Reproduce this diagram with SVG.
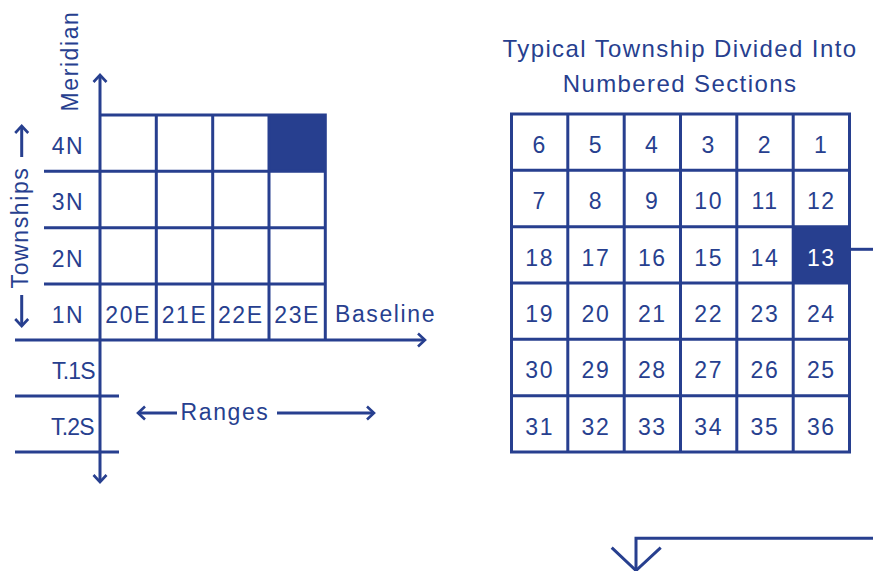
<svg xmlns="http://www.w3.org/2000/svg" width="873" height="571" viewBox="0 0 873 571">
<defs>
<style>
.ln{stroke:#273f8f;stroke-width:3;fill:none}
.fill{fill:#273f8f}
text{font-family:"Liberation Sans",Arial,sans-serif;font-size:23px;fill:#273f8f;letter-spacing:1.6px}
.c{text-anchor:middle}
.w{fill:#ffffff}
.t{font-size:24px;letter-spacing:1.4px}
.s{letter-spacing:-0.8px}
</style>
<marker id="chev" viewBox="-9 -8 11 16" markerWidth="11" markerHeight="16" refX="0" refY="0" markerUnits="userSpaceOnUse" orient="auto">
<path d="M-7,-6.5 L0,0 L-7,6.5" fill="none" stroke="#273f8f" stroke-width="2.6"/>
</marker>
</defs>
<rect width="873" height="571" fill="#ffffff"/>

<g id="left-grid">
<rect class="fill" x="269" y="115" width="56.3" height="56.3"/>
<path class="ln" d="M100,115 H325.3 V340 M44,171.3 H325.3 M44,227.7 H325.3 M44,284 H325.3 M156.3,115 V340 M212.7,115 V340 M269,115 V340"/>
<path class="ln" d="M15,396 H119 M15,452 H119"/>
<text class="c" x="68" y="154">4N</text>
<text class="c" x="68" y="210.3">3N</text>
<text class="c" x="68" y="266.7">2N</text>
<text class="c" x="68" y="323">1N</text>
<text class="c" x="128.2" y="323">20E</text>
<text class="c" x="184.5" y="323">21E</text>
<text class="c" x="240.8" y="323">22E</text>
<text class="c" x="297.2" y="323">23E</text>
<text x="335" y="322">Baseline</text>
<text class="c s" x="73.5" y="379">T.1S</text>
<text class="c s" x="72.5" y="435">T.2S</text>
<text class="c" x="225" y="420">Ranges</text>
<text class="c" transform="translate(78,61) rotate(-90)">Meridian</text>
<text class="c" transform="translate(28,227.5) rotate(-90)">Townships</text>
</g>

<g id="connectors">
<path class="ln" d="M100,340 V115"/>
<line class="ln" x1="100" y1="115" x2="100" y2="75" marker-end="url(#chev)"/>
<line class="ln" x1="100" y1="340" x2="100" y2="482" marker-end="url(#chev)"/>
<line class="ln" x1="15" y1="340" x2="425" y2="340" marker-end="url(#chev)"/>
<line class="ln" x1="21.7" y1="157" x2="21.7" y2="126" marker-end="url(#chev)"/>
<line class="ln" x1="21.7" y1="295" x2="21.7" y2="326" marker-end="url(#chev)"/>
<line class="ln" x1="177" y1="413" x2="138" y2="413" marker-end="url(#chev)"/>
<line class="ln" x1="277" y1="413" x2="374" y2="413" marker-end="url(#chev)"/>
<line class="ln" x1="851" y1="249.3" x2="873" y2="249.3"/>
<path class="ln" d="M873,538.3 H636 V571"/>
<path class="ln" d="M611.7,547.7 L636,570.5 L660.7,547.7"/>
</g>

<g id="title">
<text class="c t" x="680" y="57">Typical Township Divided Into</text>
<text class="c t" x="680" y="92">Numbered Sections</text>
</g>

<g id="right-grid">
<rect class="fill" x="793.2" y="226.7" width="56.3" height="56.3"/>
<path class="ln" d="M511.5,114 H849.5 V452 H511.5 Z M567.8,114 V452 M624.2,114 V452 M680.5,114 V452 M736.8,114 V452 M793.2,114 V452 M511.5,170.3 H849.5 M511.5,226.7 H849.5 M511.5,283 H849.5 M511.5,339.3 H849.5 M511.5,395.7 H849.5"/>
<text class="c" x="539.7" y="153">6</text>
<text class="c" x="596" y="153">5</text>
<text class="c" x="652.3" y="153">4</text>
<text class="c" x="708.7" y="153">3</text>
<text class="c" x="765" y="153">2</text>
<text class="c" x="821.3" y="153">1</text>
<text class="c" x="539.7" y="209.3">7</text>
<text class="c" x="596" y="209.3">8</text>
<text class="c" x="652.3" y="209.3">9</text>
<text class="c" x="708.7" y="209.3">10</text>
<text class="c" x="765" y="209.3">11</text>
<text class="c" x="821.3" y="209.3">12</text>
<text class="c" x="539.7" y="265.7">18</text>
<text class="c" x="596" y="265.7">17</text>
<text class="c" x="652.3" y="265.7">16</text>
<text class="c" x="708.7" y="265.7">15</text>
<text class="c" x="765" y="265.7">14</text>
<text class="c w" x="821.3" y="265.7">13</text>
<text class="c" x="539.7" y="322">19</text>
<text class="c" x="596" y="322">20</text>
<text class="c" x="652.3" y="322">21</text>
<text class="c" x="708.7" y="322">22</text>
<text class="c" x="765" y="322">23</text>
<text class="c" x="821.3" y="322">24</text>
<text class="c" x="539.7" y="378.3">30</text>
<text class="c" x="596" y="378.3">29</text>
<text class="c" x="652.3" y="378.3">28</text>
<text class="c" x="708.7" y="378.3">27</text>
<text class="c" x="765" y="378.3">26</text>
<text class="c" x="821.3" y="378.3">25</text>
<text class="c" x="539.7" y="434.7">31</text>
<text class="c" x="596" y="434.7">32</text>
<text class="c" x="652.3" y="434.7">33</text>
<text class="c" x="708.7" y="434.7">34</text>
<text class="c" x="765" y="434.7">35</text>
<text class="c" x="821.3" y="434.7">36</text>
</g>
</svg>
